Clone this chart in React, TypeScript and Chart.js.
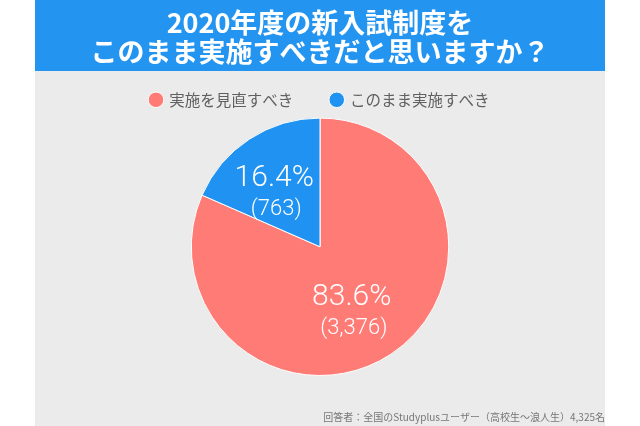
import React, { useEffect, useRef } from "react";
import { Chart, registerables } from "chart.js";

Chart.register(...registerables);

const titleLines = ["2020年度の新入試制度を", "このまま実施すべきだと思いますか？"];
const categories = ["実施を見直すべき", "このまま実施すべき"];
const counts = [3376, 763];
const percentLabels = ["83.6%", "16.4%"];
const countLabels = ["(3,376)", "(763)"];
const sliceColors = ["#ff7b76", "#2092f2"];
const footnote = "回答者：全国のStudyplusユーザー（高校生〜浪人生）4,325名";

const JP = '"Noto Sans CJK JP", "Noto Sans", sans-serif';

const backgroundPlugin = {
  id: "bgPanels",
  beforeDraw(chart: any) {
    const { ctx, width, height } = chart;
    ctx.save();
    ctx.fillStyle = "#ffffff";
    ctx.fillRect(0, 0, width, height);
    ctx.fillStyle = "#ebebeb";
    ctx.fillRect(35, 71, 570, height - 71);
    ctx.fillStyle = "#2394f0";
    ctx.fillRect(35, 0, 570, 71);
    ctx.restore();
  },
};

const sliceLabelPlugin = {
  id: "sliceLabels",
  afterDatasetsDraw(chart: any) {
    const { ctx } = chart;
    const meta = chart.getDatasetMeta(0);
    ctx.save();
    ctx.fillStyle = "#ffffff";
    ctx.textAlign = "center";
    ctx.textBaseline = "middle";
    meta.data.forEach((arc: any, i: number) => {
      const { x, y, startAngle, endAngle, outerRadius } = arc.getProps(
        ["x", "y", "startAngle", "endAngle", "outerRadius"],
        true
      );
      const mid = (startAngle + endAngle) / 2;
      const r = outerRadius * 0.55;
      const cx = x + Math.cos(mid) * r - 7;
      const cy = y + Math.sin(mid) * r + 5;
      ctx.font = '300 30px Roboto, "Liberation Sans", sans-serif';
      ctx.fillText(percentLabels[i], cx, cy - 14);
      ctx.font = '300 22px Roboto, "Liberation Sans", sans-serif';
      ctx.fillText(countLabels[i], cx + 2, cy + 17);
    });
    ctx.restore();
  },
};

export default function App() {
  const ref = useRef<HTMLCanvasElement | null>(null);
  useEffect(() => {
    if (!ref.current) return;
    const chart = new Chart(ref.current, {
      type: "pie",
      data: {
        labels: categories,
        datasets: [
          {
            data: counts,
            backgroundColor: sliceColors,
            borderColor: "#ffffff",
            borderWidth: 1,
          },
        ],
      },
      options: {
        animation: false,
        responsive: false,
        maintainAspectRatio: false,
        layout: { padding: { left: 35, right: 35 } },
        plugins: {
          tooltip: { enabled: false },
          title: {
            display: true,
            text: titleLines,
            color: "#ffffff",
            font: { family: JP, size: 27, weight: "bold", lineHeight: 1.075 },
            padding: { top: 8, bottom: -12 },
          },
          legend: {
            display: true,
            position: "top",
            labels: {
              usePointStyle: true,
              pointStyle: "circle",
              boxWidth: 11,
              boxHeight: 11,
              padding: 38,
              color: "#606060",
              font: { family: JP, size: 15.5 },
            },
          },
          subtitle: {
            display: true,
            position: "bottom",
            align: "end",
            text: footnote,
            color: "#777777",
            font: { family: JP, size: 10, lineHeight: 1.2 },
            padding: { top: 35, bottom: 3 },
          },
        },
      },
      plugins: [backgroundPlugin, sliceLabelPlugin],
    });
    return () => chart.destroy();
  }, []);
  return (
    <div style={{ position: "fixed", left: 0, top: 0, width: 640, height: 426 }}>
      <canvas ref={ref} width={640} height={426} style={{ display: "block" }} />
    </div>
  );
}
